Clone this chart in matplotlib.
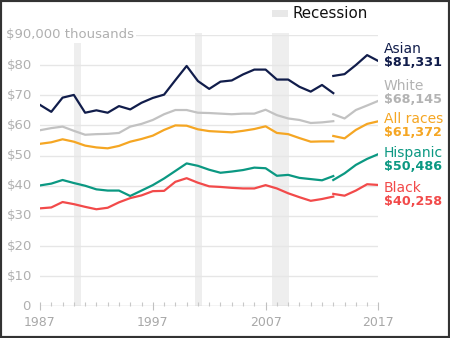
import matplotlib
matplotlib.use("Agg")
import matplotlib.pyplot as plt
from matplotlib.patches import Rectangle
from matplotlib.transforms import blended_transform_factory

# median household income, thousands of 2017 dollars
years_a = list(range(1987, 2014))
years_b = list(range(2013, 2018))

asian_a = [66.8, 64.5, 69.2, 70.1, 64.2, 65.0, 64.2, 66.4, 65.3, 67.5, 69.1, 70.2, 75.0, 79.7,
           74.7, 72.1, 74.5, 74.9, 76.9, 78.5, 78.5, 75.2, 75.2, 72.8, 71.2, 73.4, 70.7]
asian_b = [76.4, 77.0, 80.0, 83.3, 81.331]
white_a = [58.4, 59.1, 59.6, 58.2, 56.9, 57.1, 57.2, 57.5, 59.6, 60.5, 61.8, 63.7, 65.1, 65.1,
           64.2, 64.1, 63.9, 63.7, 63.9, 63.9, 65.2, 63.4, 62.3, 61.8, 60.8, 61.0, 61.4]
white_b = [63.7, 62.3, 65.1, 66.6, 68.145]
all_a = [53.9, 54.4, 55.4, 54.6, 53.3, 52.7, 52.4, 53.2, 54.6, 55.5, 56.6, 58.5, 60.0, 59.9,
         58.7, 58.1, 57.9, 57.7, 58.2, 58.8, 59.7, 57.5, 57.1, 55.8, 54.6, 54.7, 54.7]
all_b = [56.5, 55.7, 58.5, 60.5, 61.372]
hisp_a = [40.1, 40.7, 41.9, 40.9, 40.0, 38.8, 38.4, 38.4, 36.6, 38.4, 40.2, 42.4, 44.9, 47.4,
          46.6, 45.3, 44.3, 44.7, 45.2, 46.0, 45.8, 43.3, 43.6, 42.6, 42.2, 41.8, 43.2]
hisp_b = [41.9, 44.1, 46.9, 48.9, 50.486]
black_a = [32.5, 32.8, 34.6, 33.9, 33.0, 32.2, 32.7, 34.5, 35.9, 36.8, 38.2, 38.3, 41.3, 42.5,
           41.0, 39.8, 39.6, 39.3, 39.1, 39.1, 40.2, 39.1, 37.5, 36.2, 35.0, 35.6, 36.4]
black_b = [37.3, 36.7, 38.4, 40.5, 40.258]

names = ["Asian", "White", "All races", "Hispanic", "Black"]
amounts = ["$81,331", "$68,145", "$61,372", "$50,486", "$40,258"]
colors = ["#111d4b", "#c2c2c2", "#f5a623", "#0b9882", "#f24a4a"]
label_colors = ["#111d4b", "#b3b3b3", "#f5a623", "#0b9882", "#f24a4a"]
series = [(asian_a, asian_b), (white_a, white_b), (all_a, all_b),
          (hisp_a, hisp_b), (black_a, black_b)]

recessions = [(1990.0, 1990.65), (2000.75, 2001.4), (2007.6, 2009.1)]
ytick_vals = [0, 10, 20, 30, 40, 50, 60, 70, 80]
ytick_labels = ["0", "$10", "$20", "$30", "$40", "$50", "$60", "$70", "$80"]
xtick_vals = [1987, 1997, 2007, 2017]

W, H = 450, 338
fig = plt.figure(figsize=(4.5, 3.38), dpi=100)
ax = fig.add_axes([40 / W, 1 - 306.4 / H, 338.4 / W, (306.4 - 34.9) / H])
ax.set_xlim(1987, 2017)
ax.set_ylim(0, 90)
for s in ax.spines.values():
    s.set_visible(False)
ax.set_yticks([])

for a, b in recessions:
    ax.axvspan(a, b, ymin=0, ymax=90.5 / 90, color="#eeeeee", lw=0, zorder=0)
for p in ax.patches:
    p.set_clip_on(False)

for v in ytick_vals[1:] + [90]:
    ax.plot([1987, 2017], [v, v], color="#e6e6e6", lw=1, zorder=1)

for (a, b), c in zip(series, colors):
    ax.plot(years_a, a, color=c, lw=1.6, zorder=3)
    ax.plot(years_b, b, color=c, lw=1.6, zorder=3)

# x axis
ax.plot([1987, 2017], [0, 0], color="#c8c8c8", lw=1, zorder=2)
ax.set_xticks(xtick_vals)
ax.set_xticks(range(1987, 2018), minor=True)
ax.tick_params(axis="x", which="major", direction="inout", length=6, width=0.8,
               color="#c0c0c0", labelcolor="#a8a8a8", labelsize=9, pad=4)
ax.tick_params(axis="x", which="minor", direction="in", length=3, width=0.8, color="#c8c8c8")
ax.tick_params(axis="y", length=0)

# y labels
tr = blended_transform_factory(fig.transFigure, ax.transData)
for v, lab in zip(ytick_vals, ytick_labels):
    x = 6.5 / W if lab != "0" else 22 / W
    ax.text(x, v, lab, transform=tr, ha="left", va="center", color="#b0b0b0", fontsize=9.5)
ax.text(6.5 / W, 90, "$90,000 thousands", transform=tr, ha="left", va="center",
        color="#b0b0b0", fontsize=9.5, zorder=5,
        bbox=dict(boxstyle="square,pad=0.12", fc="white", ec="none"))

# right labels
name_y = [48.7, 86.3, 119, 153, 188]
for n, amt, c, y in zip(names, amounts, label_colors, name_y):
    fig.text(384 / W, 1 - y / H, n, color=c, fontsize=10, ha="left", va="center")
    fig.text(384 / W, 1 - (y + 13.5) / H, amt, color=c, fontsize=9.2, fontweight="bold",
             ha="left", va="center")

# legend
fig.add_artist(Rectangle((271.7 / W, 1 - 17.3 / H), 16.6 / W, 7.3 / H,
                         transform=fig.transFigure, color="#e8e8e8", lw=0))
fig.text(293 / W, 1 - 13.5 / H, "Recession", color="#111111", fontsize=10.8,
         ha="left", va="center")

# frame
fig.add_artist(Rectangle((0, 0), 1, 1, transform=fig.transFigure, fill=False,
                         ec="#333333", lw=3))

fig.savefig("out.png", dpi=100)
